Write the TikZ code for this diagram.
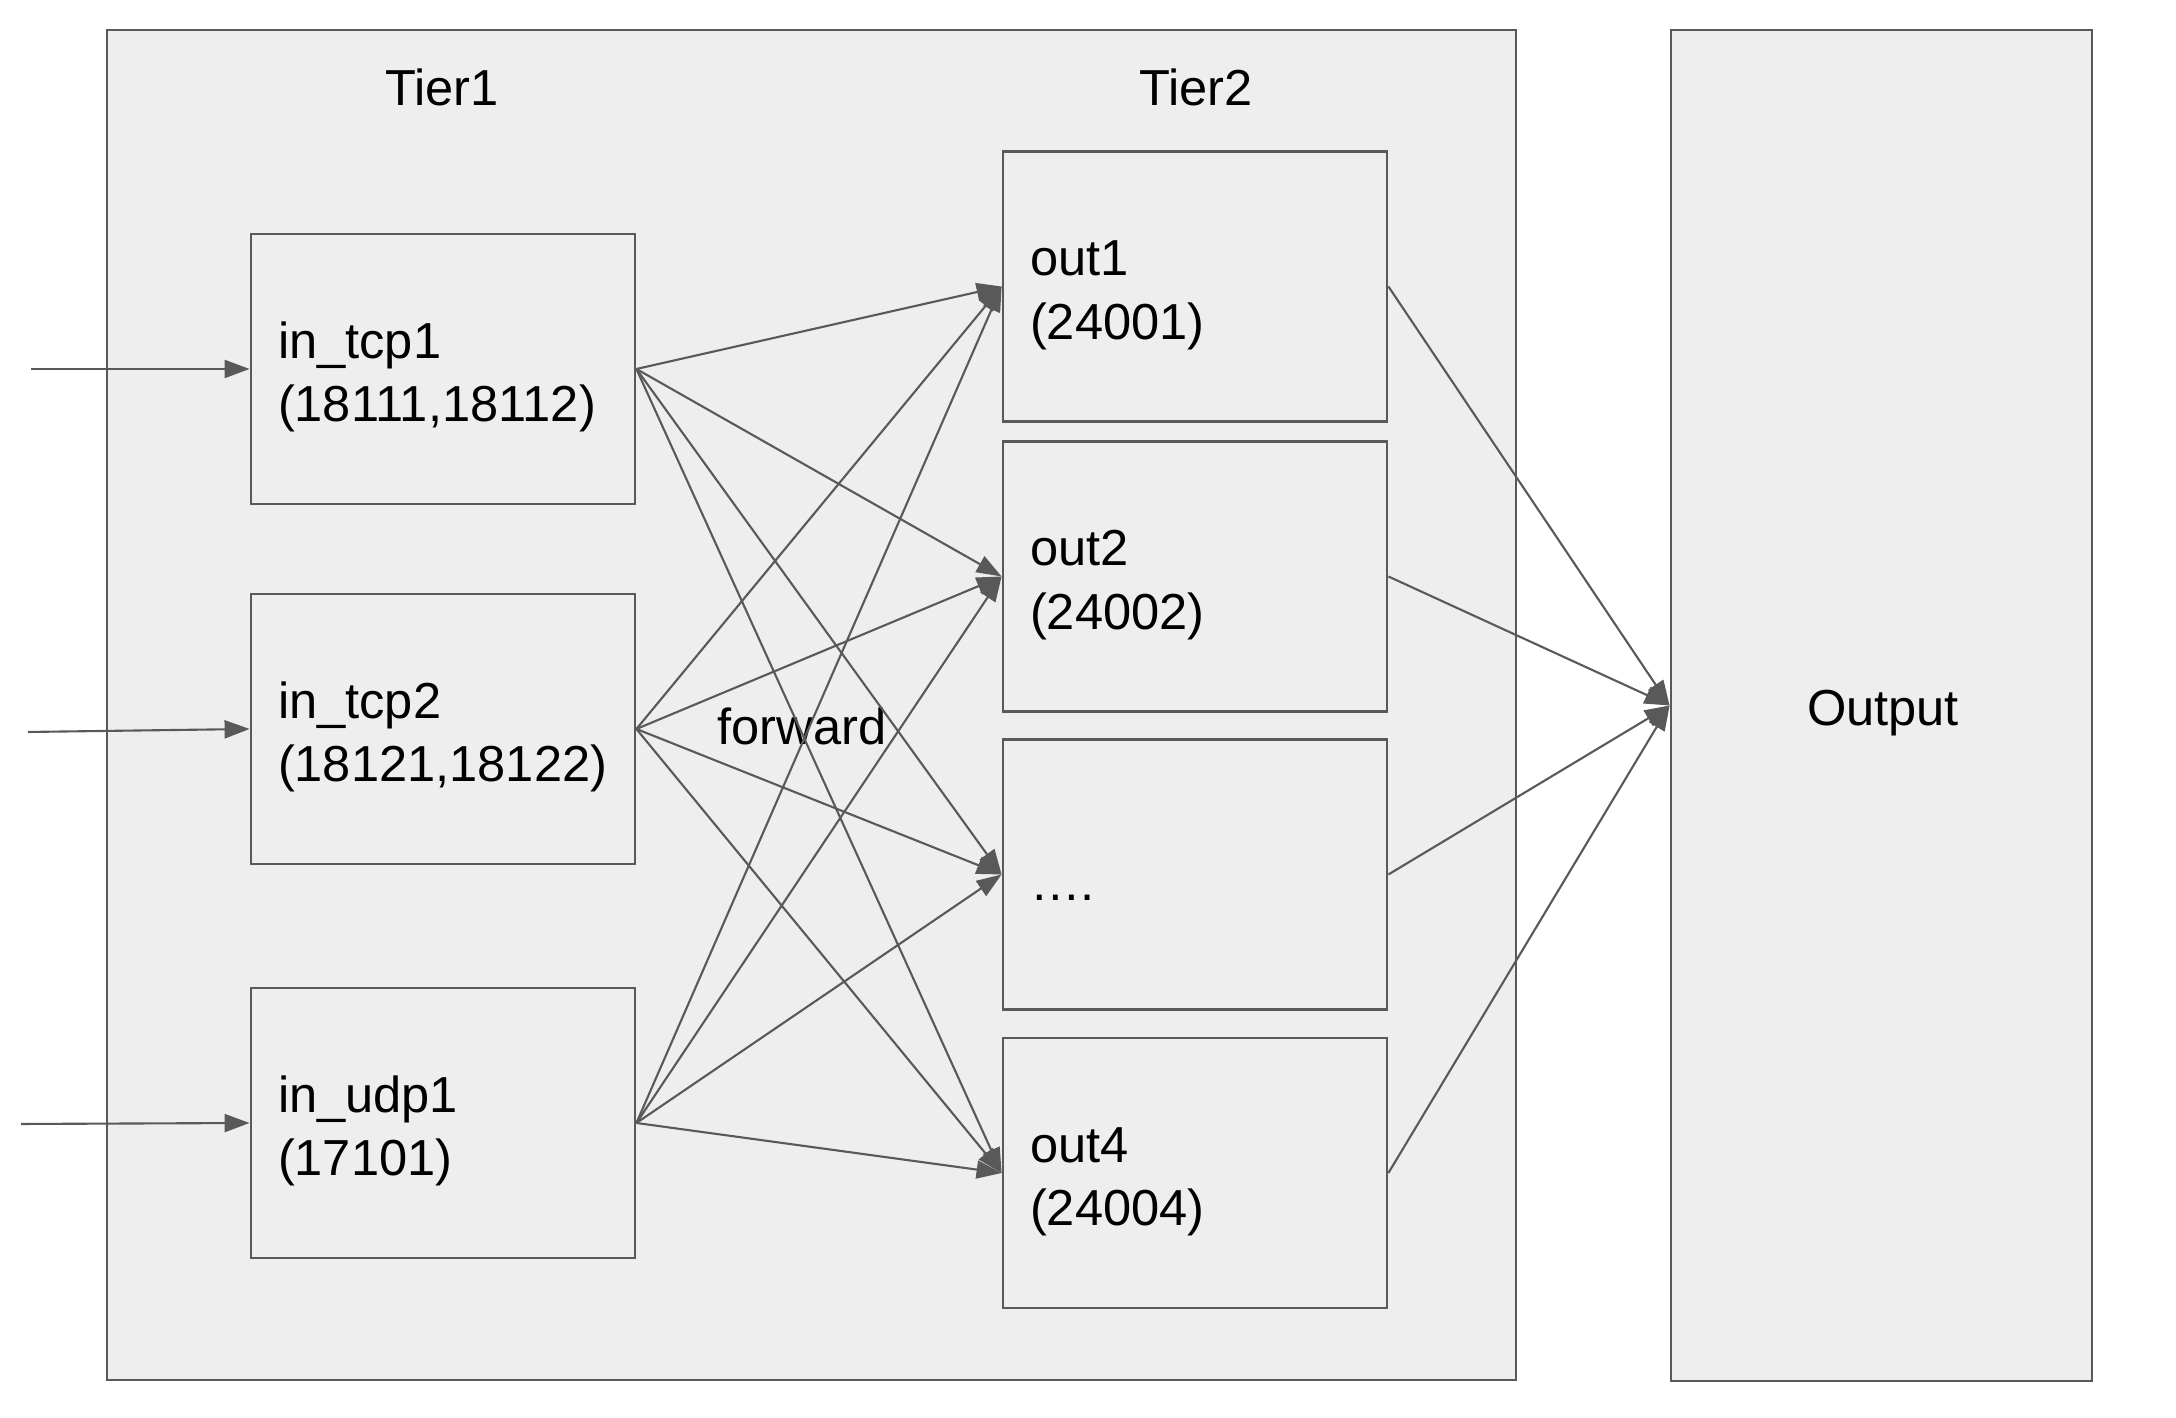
\documentclass[tikz,border=0pt]{standalone}
\usepackage{fontspec}
\setmainfont{Liberation Sans}
\usepackage{xcolor}
\usepackage{tikz}
\usetikzlibrary{arrows.meta}
\definecolor{boxgray}{RGB}{238,238,238}
\definecolor{linegray}{RGB}{89,89,89}

\begin{document}
\begin{tikzpicture}[>={Triangle[length=2.5mm, width=1.8mm]}, every node/.style={font=\fontsize{14.4}{18}\selectfont}]
    \tikzstyle{tier} = [rectangle, draw=linegray, fill=boxgray, line width=0.8pt, inner sep=0pt]
    \tikzstyle{port} = [rectangle, draw=linegray, fill=boxgray, line width=0.8pt, minimum width=3.84cm, minimum height=2.7cm, text width=3.3cm, inner xsep=0.27cm, align=left, execute at begin node={\rule{0pt}{15pt}}]
    \tikzstyle{link} = [->, color=linegray, line width=0.6pt]

    \useasboundingbox (0,0) rectangle (21.76,14.18);

    % Tier frame and output column
    \node [tier, minimum width=14.09cm, minimum height=13.5cm] (tiers) at (8.115,7.13) {};
    \node [tier, minimum width=4.21cm, minimum height=13.51cm] (output) at (18.815,7.125) {};
    \node (outlabel) at (18.83,7.05) {Output};
    \node (tier1) at (4.42,13.31) {Tier1};
    \node (tier2) at (11.96,13.31) {Tier2};

    % Tier1 inputs
    \node [port] (intcp1) at (4.43,10.49) {in\_tcp1\\(18111,18112)};
    \node [port] (intcp2) at (4.43,6.89) {in\_tcp2\\(18121,18122)};
    \node [port] (inudp1) at (4.43,2.95) {in\_udp1\\(17101)};

    % Tier2 outputs
    \node [port] (out1) at (11.95,11.315) {out1\\(24001)};
    \node [port] (out2) at (11.95,8.415) {out2\\(24002)};
    \node [port] (outdots) at (11.95,5.435) {….};
    \node [port] (out4) at (11.95,2.45) {out4\\(24004)};

    \node (forward) at (8.02,6.92) {forward};

    % incoming traffic
    \coordinate (src1) at (0.31,10.49);
    \coordinate (src2) at (0.28,6.86);
    \coordinate (src3) at (0.21,2.94);
    \draw [link] (src1) -- (intcp1.west);
    \draw [link] (src2) -- (intcp2.west);
    \draw [link] (src3) -- (inudp1.west);

    % forward links
    \draw [link] (intcp1.east) -- (out1.west);
    \draw [link] (intcp1.east) -- (out2.west);
    \draw [link] (intcp1.east) -- (outdots.west);
    \draw [link] (intcp1.east) -- (out4.west);
    \draw [link] (intcp2.east) -- (out1.west);
    \draw [link] (intcp2.east) -- (out2.west);
    \draw [link] (intcp2.east) -- (outdots.west);
    \draw [link] (intcp2.east) -- (out4.west);
    \draw [link] (inudp1.east) -- (out1.west);
    \draw [link] (inudp1.east) -- (out2.west);
    \draw [link] (inudp1.east) -- (outdots.west);
    \draw [link] (inudp1.east) -- (out4.west);

    % to output
    \draw [link] (out1.east) -- (output.west);
    \draw [link] (out2.east) -- (output.west);
    \draw [link] (outdots.east) -- (output.west);
    \draw [link] (out4.east) -- (output.west);
\end{tikzpicture}
\end{document}
